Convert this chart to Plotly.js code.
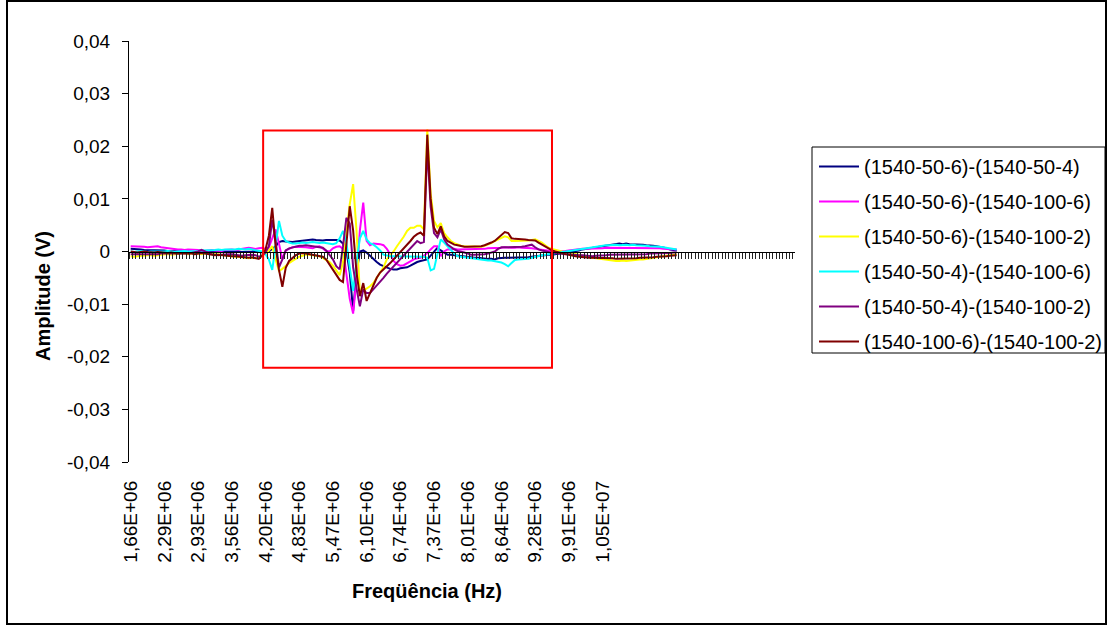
<!DOCTYPE html>
<html>
<head>
<meta charset="utf-8">
<script src="https://cdn.plot.ly/plotly-3.0.1.min.js"></script>
<style>html,body{margin:0;padding:0;background:#fff;}#chart{width:1109px;height:626px;}</style>
</head>
<body>
<div id="chart"></div>
<script>
// Category tick labels (every 10th category)
const tickLabels = ["1,66E+06","2,29E+06","2,93E+06","3,56E+06","4,20E+06","4,83E+06","5,47E+06","6,10E+06","6,74E+06","7,37E+06","8,01E+06","8,64E+06","9,28E+06","9,91E+06","1,05E+07"];
const labelStep = 10;
const yTickVals = [-0.04,-0.03,-0.02,-0.01,0,0.01,0.02,0.03,0.04];
const yTickText = ["-0,04","-0,03","-0,02","-0,01","0","0,01","0,02","0,03","0,04"];

const seriesNames = ["(1540-50-6)-(1540-50-4)","(1540-50-6)-(1540-100-6)","(1540-50-6)-(1540-100-2)","(1540-50-4)-(1540-100-6)","(1540-50-4)-(1540-100-2)","(1540-100-6)-(1540-100-2)"];
const seriesColors = ["#000080","#FF00FF","#FFFF00","#00FFFF","#800080","#800000"];

const s1 = [0.0005,0.0005,0.0004,0.0004,0.0003,0.0003,0.0003,0.0002,0.0002,0.0002,
0.0002,0.0001,0.0001,0.0001,0.0000,0.0001,0.0001,0.0000,0.0000,-0.0001,
-0.0001,0.0000,0.0000,0.0001,0.0000,-0.0001,-0.0001,0.0000,0.0000,0.0001,
0.0001,0.0000,0.0000,-0.0001,-0.0001,0.0000,0.0000,0.0001,0.0000,-0.0002,
-0.0003,0.0000,0.0005,0.0010,0.0018,0.0020,0.0019,0.0018,0.0018,0.0019,
0.0020,0.0021,0.0022,0.0022,0.0023,0.0022,0.0021,0.0021,0.0022,0.0022,
0.0023,0.0022,0.0021,0.0015,0.0002,-0.0040,-0.0113,-0.0040,0.0000,0.0002,
-0.0002,-0.0008,-0.0015,-0.0020,-0.0025,-0.0028,-0.0030,-0.0033,-0.0034,-0.0034,
-0.0032,-0.0031,-0.0030,-0.0027,-0.0023,-0.0020,-0.0018,-0.0016,-0.0015,-0.0008,
0.0000,0.0007,0.0002,-0.0002,-0.0006,-0.0006,-0.0007,-0.0008,-0.0008,-0.0009,
-0.0010,-0.0011,-0.0012,-0.0012,-0.0013,-0.0013,-0.0014,-0.0014,-0.0015,-0.0013,
-0.0012,-0.0012,-0.0012,-0.0012,-0.0012,-0.0012,-0.0012,-0.0012,-0.0011,-0.0010,
-0.0009,-0.0008,-0.0008,-0.0007,-0.0006,-0.0006,-0.0005,-0.0005,-0.0004,-0.0003,
-0.0002,-0.0001,0.0000,0.0002,0.0004,0.0005,0.0006,0.0008,0.0009,0.0010,
0.0011,0.0012,0.0013,0.0014,0.0014,0.0015,0.0014,0.0015,0.0014,0.0014,
0.0014,0.0013,0.0013,0.0012,0.0012,0.0011,0.0010,0.0009,0.0008,0.0006,
0.0004,0.0003,0.0002];

const s2 = [0.0010,0.0010,0.0009,0.0010,0.0009,0.0008,0.0009,0.0010,0.0010,0.0008,
0.0007,0.0006,0.0005,0.0005,0.0004,0.0004,0.0003,0.0004,0.0004,0.0003,
0.0003,0.0002,0.0001,0.0002,0.0003,0.0002,0.0002,0.0001,0.0003,0.0004,
0.0004,0.0003,0.0004,0.0005,0.0006,0.0007,0.0006,0.0005,0.0006,0.0007,
0.0005,0.0008,0.0025,0.0042,0.0015,-0.0015,0.0002,0.0005,0.0008,0.0009,
0.0009,0.0008,0.0008,0.0007,0.0006,0.0009,0.0010,0.0006,0.0001,0.0000,
0.0006,0.0009,0.0010,0.0005,-0.0040,-0.0090,-0.0118,-0.0050,0.0040,0.0093,
0.0020,0.0012,0.0015,0.0015,0.0014,0.0012,0.0005,-0.0005,-0.0018,-0.0024,
-0.0027,-0.0026,-0.0022,-0.0018,-0.0015,-0.0013,-0.0012,-0.0008,-0.0003,0.0004,
0.0010,0.0010,-0.0009,0.0000,0.0004,0.0004,0.0005,0.0004,0.0004,0.0005,
0.0004,0.0004,0.0005,0.0004,0.0004,0.0005,0.0006,0.0006,0.0007,0.0007,
0.0007,0.0008,0.0007,0.0007,0.0007,0.0008,0.0007,0.0007,0.0007,0.0006,
0.0005,0.0004,0.0003,0.0002,0.0001,0.0001,0.0000,0.0000,0.0000,0.0001,
0.0002,0.0003,0.0004,0.0004,0.0005,0.0005,0.0005,0.0006,0.0006,0.0006,
0.0006,0.0007,0.0007,0.0006,0.0007,0.0007,0.0006,0.0006,0.0007,0.0006,
0.0006,0.0006,0.0007,0.0006,0.0006,0.0006,0.0006,0.0006,0.0005,0.0005,
0.0005,0.0005,0.0004];

const s3 = [-0.0009,-0.0010,-0.0009,-0.0008,-0.0008,-0.0007,-0.0007,-0.0008,-0.0007,-0.0006,
-0.0006,-0.0005,-0.0006,-0.0005,-0.0005,-0.0004,-0.0004,-0.0005,-0.0004,-0.0003,
-0.0004,-0.0005,-0.0004,-0.0003,-0.0004,-0.0005,-0.0006,-0.0006,-0.0007,-0.0008,
-0.0009,-0.0010,-0.0010,-0.0011,-0.0012,-0.0013,-0.0012,-0.0013,-0.0011,-0.0008,
-0.0004,0.0002,0.0010,-0.0015,-0.0037,-0.0033,-0.0027,-0.0022,-0.0018,-0.0014,
-0.0010,-0.0008,-0.0006,-0.0006,-0.0007,-0.0008,-0.0009,-0.0012,-0.0016,-0.0020,
-0.0027,-0.0036,-0.0045,-0.0020,0.0040,0.0090,0.0128,0.0040,-0.0079,-0.0075,
-0.0070,-0.0066,-0.0060,-0.0050,-0.0040,-0.0030,-0.0015,-0.0008,0.0000,0.0010,
0.0018,0.0028,0.0039,0.0045,0.0045,0.0049,0.0049,0.0042,0.0232,0.0110,
0.0058,0.0046,0.0054,0.0035,0.0027,0.0020,0.0016,0.0013,0.0011,0.0010,
0.0010,0.0009,0.0009,0.0009,0.0009,0.0011,0.0013,0.0016,0.0020,0.0023,
0.0026,0.0029,0.0027,0.0020,0.0020,0.0020,0.0020,0.0021,0.0021,0.0022,
0.0023,0.0020,0.0017,0.0012,0.0007,0.0005,0.0003,0.0001,0.0000,-0.0001,
-0.0002,-0.0003,-0.0004,-0.0006,-0.0008,-0.0010,-0.0011,-0.0012,-0.0013,-0.0014,
-0.0015,-0.0016,-0.0017,-0.0017,-0.0018,-0.0018,-0.0017,-0.0018,-0.0017,-0.0016,
-0.0016,-0.0015,-0.0015,-0.0014,-0.0013,-0.0012,-0.0011,-0.0010,-0.0009,-0.0008,
-0.0007,-0.0006,-0.0005];

const s4 = [0.0000,-0.0001,0.0000,0.0001,0.0000,-0.0001,0.0000,0.0000,-0.0001,0.0000,
0.0000,0.0001,0.0000,-0.0001,0.0000,0.0001,0.0001,0.0000,0.0000,0.0001,
0.0001,0.0002,0.0002,0.0003,0.0002,0.0003,0.0004,0.0003,0.0004,0.0004,
0.0003,0.0004,0.0005,0.0004,0.0004,0.0005,0.0004,0.0003,0.0002,0.0000,
-0.0005,-0.0015,-0.0035,0.0010,0.0058,0.0030,0.0020,0.0017,0.0015,0.0015,
0.0016,0.0017,0.0016,0.0017,0.0018,0.0017,0.0016,0.0017,0.0016,0.0015,
0.0014,0.0016,0.0025,0.0039,0.0017,-0.0030,-0.0075,-0.0020,0.0025,0.0039,
0.0023,0.0016,0.0013,0.0008,0.0002,-0.0006,-0.0008,-0.0009,-0.0009,-0.0009,
-0.0010,-0.0010,-0.0009,-0.0009,-0.0009,-0.0010,-0.0009,-0.0010,-0.0012,-0.0036,
-0.0033,-0.0003,0.0023,0.0017,0.0010,0.0002,-0.0004,-0.0009,-0.0010,-0.0011,
-0.0012,-0.0012,-0.0013,-0.0014,-0.0015,-0.0016,-0.0017,-0.0017,-0.0018,-0.0019,
-0.0021,-0.0024,-0.0028,-0.0022,-0.0016,-0.0015,-0.0015,-0.0015,-0.0014,-0.0012,
-0.0010,-0.0008,-0.0007,-0.0006,-0.0005,-0.0004,-0.0003,-0.0002,0.0000,0.0001,
0.0002,0.0003,0.0004,0.0005,0.0006,0.0007,0.0007,0.0008,0.0009,0.0010,
0.0011,0.0012,0.0012,0.0013,0.0013,0.0012,0.0013,0.0013,0.0012,0.0013,
0.0012,0.0012,0.0011,0.0011,0.0010,0.0010,0.0009,0.0009,0.0008,0.0007,
0.0006,0.0005,0.0004];

const s5 = [-0.0005,-0.0005,-0.0006,-0.0005,-0.0005,-0.0006,-0.0006,-0.0005,-0.0005,-0.0004,
-0.0004,-0.0005,-0.0005,-0.0004,-0.0004,-0.0005,-0.0005,-0.0004,-0.0003,-0.0002,
0.0000,0.0003,0.0000,-0.0003,-0.0005,-0.0006,-0.0007,-0.0006,-0.0005,-0.0005,
-0.0005,-0.0006,-0.0007,-0.0008,-0.0007,-0.0006,-0.0006,-0.0007,-0.0010,-0.0008,
-0.0002,0.0010,0.0060,0.0020,-0.0030,-0.0015,0.0002,0.0006,0.0008,0.0010,
0.0011,0.0011,0.0012,0.0011,0.0010,0.0010,0.0009,0.0007,0.0002,-0.0006,
-0.0015,-0.0028,-0.0034,0.0010,0.0064,0.0053,-0.0030,-0.0070,-0.0104,-0.0072,
-0.0079,-0.0079,-0.0072,-0.0066,-0.0058,-0.0050,-0.0042,-0.0035,-0.0029,-0.0022,
-0.0015,-0.0009,-0.0002,0.0005,0.0013,0.0020,0.0016,0.0018,0.0198,0.0085,
0.0035,0.0027,0.0042,0.0023,0.0013,0.0008,0.0004,0.0001,0.0000,-0.0002,
-0.0004,-0.0006,-0.0006,-0.0006,-0.0006,-0.0005,-0.0004,-0.0002,0.0000,0.0005,
0.0008,0.0008,0.0008,0.0008,0.0008,0.0009,0.0009,0.0010,0.0011,0.0013,
0.0008,0.0004,0.0002,0.0000,-0.0001,-0.0002,-0.0003,-0.0003,-0.0004,-0.0005,
-0.0005,-0.0006,-0.0006,-0.0007,-0.0007,-0.0008,-0.0008,-0.0009,-0.0008,-0.0008,
-0.0007,-0.0007,-0.0006,-0.0006,-0.0006,-0.0006,-0.0005,-0.0006,-0.0005,-0.0005,
-0.0005,-0.0005,-0.0005,-0.0005,-0.0004,-0.0004,-0.0004,-0.0004,-0.0003,-0.0003,
-0.0003,-0.0002,-0.0002];

const s6 = [0.0000,-0.0001,-0.0002,-0.0001,0.0000,-0.0001,-0.0002,-0.0002,-0.0001,-0.0002,
-0.0002,-0.0003,-0.0002,-0.0003,-0.0004,-0.0003,-0.0003,-0.0004,-0.0004,-0.0005,
-0.0004,-0.0003,-0.0004,-0.0005,-0.0006,-0.0007,-0.0006,-0.0007,-0.0008,-0.0008,
-0.0009,-0.0009,-0.0010,-0.0011,-0.0011,-0.0012,-0.0011,-0.0013,-0.0014,-0.0008,
0.0004,0.0030,0.0083,0.0010,-0.0035,-0.0067,-0.0031,-0.0018,-0.0012,-0.0007,
-0.0004,-0.0003,-0.0004,-0.0005,-0.0006,-0.0007,-0.0009,-0.0010,-0.0015,-0.0025,
-0.0035,-0.0044,-0.0054,-0.0058,0.0020,0.0086,0.0040,-0.0040,-0.0085,-0.0060,
-0.0094,-0.0080,-0.0065,-0.0050,-0.0040,-0.0033,-0.0028,-0.0022,-0.0015,-0.0009,
-0.0003,0.0005,0.0012,0.0020,0.0028,0.0033,0.0036,0.0030,0.0222,0.0100,
0.0045,0.0033,0.0048,0.0029,0.0020,0.0016,0.0013,0.0012,0.0010,0.0009,
0.0009,0.0009,0.0010,0.0010,0.0010,0.0012,0.0014,0.0017,0.0020,0.0026,
0.0032,0.0037,0.0035,0.0025,0.0024,0.0024,0.0023,0.0023,0.0022,0.0021,
0.0021,0.0017,0.0013,0.0009,0.0005,0.0002,0.0000,-0.0002,-0.0004,-0.0005,
-0.0006,-0.0008,-0.0009,-0.0010,-0.0011,-0.0011,-0.0012,-0.0012,-0.0012,-0.0012,
-0.0012,-0.0013,-0.0013,-0.0013,-0.0014,-0.0014,-0.0013,-0.0014,-0.0013,-0.0013,
-0.0013,-0.0012,-0.0012,-0.0012,-0.0011,-0.0011,-0.0010,-0.0010,-0.0009,-0.0009,
-0.0008,-0.0008,-0.0007];

const allSeries = [s1,s2,s3,s4,s5,s6];

// geometry helpers (plot area in px)
const W = 1109, H = 626;
const M = {l:129, r:314, t:41, b:164, autoexpand: false};
const PW = W - M.l - M.r, PH = H - M.t - M.b;
const px2x = p => (p - M.l) / PW;
const py2y = p => (H - M.b - p) / PH;

const xRange = [-0.5, 197.1];
const FONT = "Liberation Sans, Arial, sans-serif";

const traces = allSeries.map((ys, k) => ({
  type: 'scatter', mode: 'lines',
  x: ys.map((_, i) => i), y: ys,
  name: seriesNames[k], legendgroup: 'g' + k,
  line: {color: seriesColors[k], width: 2},
  hoverinfo: 'skip'
}));
// empty helper trace so the mid-height category axis (tick band at y = 0) is drawn
traces.unshift({type: 'scatter', mode: 'lines', x: [], y: [], xaxis: 'x2', yaxis: 'y',
  showlegend: false, hoverinfo: 'skip'});

const layout = {
  width: W, height: H,
  margin: M,
  paper_bgcolor: '#fff', plot_bgcolor: '#fff',
  font: {family: FONT, size: 19, color: '#000'},
  showlegend: true,
  legend: {
    x: px2x(814), y: py2y(147), xanchor: 'left', yanchor: 'top',
    bgcolor: 'rgba(0,0,0,0)', borderwidth: 0,
    font: {family: FONT, size: 20, color: '#000'},
    tracegroupgap: 6, itemwidth: 40, traceorder: 'grouped'
  },
  xaxis: {
    range: xRange, showline: false, showgrid: false, zeroline: false,
    ticks: '', tickvals: tickLabels.map((_, k) => k * labelStep), ticktext: tickLabels,
    tickangle: -90, tickfont: {family: FONT, size: 19, color: '#000'},
    ticklabelstandoff: 14
  },
  xaxis2: {
    overlaying: 'x', anchor: 'free', position: 0.5, side: 'bottom',
    range: xRange, showline: true, linecolor: '#000', linewidth: 1,
    ticks: 'outside', ticklen: 6, tickwidth: 1, tickcolor: '#222',
    tick0: -0.5, dtick: 1, showticklabels: false, showgrid: false, zeroline: false
  },
  yaxis: {
    range: [-0.04, 0.04], tickvals: yTickVals, ticktext: yTickText,
    ticks: 'outside', ticklen: 6, tickcolor: '#000', showline: true, linecolor: '#000', linewidth: 1,
    showgrid: false, zeroline: false, tickfont: {family: FONT, size: 19, color: '#000'},
    ticklabelstandoff: 8
  },
  shapes: [
    {type: 'rect', xref: 'x', yref: 'y', x0: 39.3, x1: 125, y0: -0.0221, y1: 0.0230,
     line: {color: '#FF0000', width: 2}, fillcolor: 'rgba(0,0,0,0)'},
    {type: 'rect', xref: 'paper', yref: 'paper', x0: px2x(812), x1: px2x(1105), y0: py2y(353), y1: py2y(147),
     line: {color: '#000', width: 1}, fillcolor: 'rgba(0,0,0,0)', layer: 'below'},
    {type: 'rect', xref: 'paper', yref: 'paper', x0: px2x(7), x1: px2x(1106), y0: py2y(624), y1: py2y(1),
     line: {color: '#000', width: 2}, fillcolor: 'rgba(0,0,0,0)'}
  ],
  annotations: [
    {text: '<b>Amplitude (V)</b>', xref: 'paper', yref: 'paper', x: px2x(43), y: py2y(296),
     textangle: -90, showarrow: false, xanchor: 'center', yanchor: 'middle',
     font: {family: FONT, size: 20, color: '#000'}},
    {text: '<b>Freqüência (Hz)</b>', xref: 'paper', yref: 'paper', x: px2x(427), y: py2y(591),
     showarrow: false, xanchor: 'center', yanchor: 'middle',
     font: {family: FONT, size: 20, color: '#000'}}
  ],
  hovermode: false
};

Plotly.newPlot('chart', traces, layout, {staticPlot: true, displayModeBar: false});
</script>
</body>
</html>
